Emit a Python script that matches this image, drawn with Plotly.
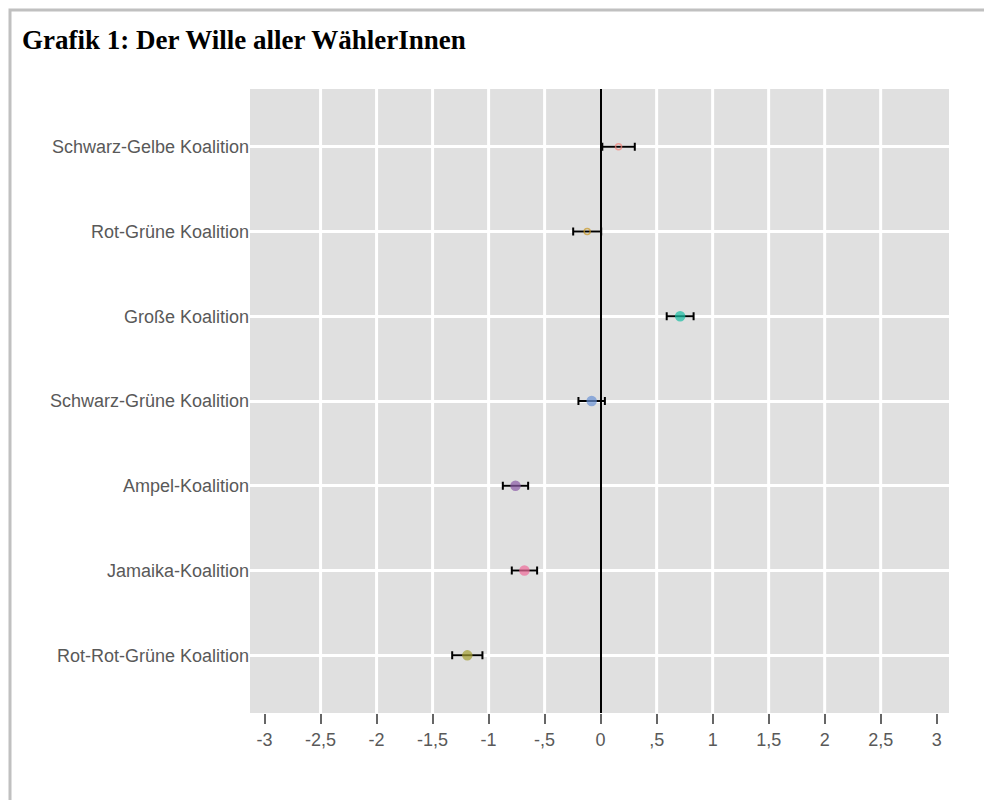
import plotly.graph_objects as go

# ---- data ----
CATEGORIES = [
    "Schwarz-Gelbe Koalition",
    "Rot-Grüne Koalition",
    "Große Koalition",
    "Schwarz-Grüne Koalition",
    "Ampel-Koalition",
    "Jamaika-Koalition",
    "Rot-Rot-Grüne Koalition",
]
ESTIMATES = [0.16, -0.12, 0.71, -0.08, -0.76, -0.68, -1.19]
ERRORS = [0.145, 0.125, 0.12, 0.118, 0.113, 0.113, 0.135]
COLORS = ["#F4837A", "#C8951F", "#19BFA5", "#6B93D6", "#8C5BA8", "#F06A9A", "#A5A032"]
SYMBOLS = ["circle-open", "circle-open", "circle", "circle", "circle", "circle", "circle"]
SIZES = [6, 6, 9, 9, 9, 9, 9]

TICK_VALS = [-3, -2.5, -2, -1.5, -1, -0.5, 0, 0.5, 1, 1.5, 2, 2.5, 3]
TICK_TEXT = ["-3", "-2,5", "-2", "-1,5", "-1", "-,5", "0", ",5", "1", "1,5", "2", "2,5", "3"]
GRID_X = [-2.5, -2, -1.5, -1, -0.5, 0.5, 1, 1.5, 2, 2.5]

TITLE = "Grafik 1: Der Wille aller WählerInnen"

# page body has an 8px margin, so the figure is drawn from (8, 8)
OFF = 8
W, H = 992 - OFF, 800 - OFF
L, R, T, B = 250 - OFF, 992 - 949, 89 - OFF, 800 - 713
pw, ph = W - L - R, H - T - B

fig = go.Figure()
fig.add_trace(go.Scatter(
    x=ESTIMATES, y=CATEGORIES, mode="markers",
    marker=dict(color=COLORS, symbol=SYMBOLS, size=SIZES,
                line=dict(color=COLORS, width=1.5)),
    error_x=dict(type="data", array=ERRORS, visible=True,
                 color="black", thickness=2, width=4),
    showlegend=False, hoverinfo="skip",
))

shapes = []
for gx in GRID_X:
    shapes.append(dict(type="line", xref="x", yref="paper", x0=gx, x1=gx, y0=0, y1=1,
                       line=dict(color="white", width=3), layer="below"))


def px_x(p):
    return (p - OFF - L) / pw


def px_y(p):
    return (H - B - (p - OFF)) / ph


# outer border of the figure
shapes.append(dict(type="rect", xref="paper", yref="paper",
                   x0=px_x(10), x1=px_x(1010), y0=px_y(10), y1=px_y(830),
                   line=dict(color="#C0C0C0", width=3), fillcolor="rgba(0,0,0,0)", layer="above"))

fig.update_layout(
    width=W, height=H,
    margin=dict(l=L, r=R, t=T, b=B),
    paper_bgcolor="white",
    plot_bgcolor="#E0E0E0",
    title=dict(text="<b>" + TITLE + "</b>", x=(22 - OFF) / W, xanchor="left", xref="container",
               y=1 - (40 - OFF) / H, yanchor="middle", yref="container",
               font=dict(family="Liberation Serif", size=27, color="black")),
    font=dict(family="Liberation Sans", size=18, color="#595959"),
    shapes=shapes,
    xaxis=dict(range=[-3.13, 3.11], tickvals=TICK_VALS, ticktext=TICK_TEXT,
               showgrid=False, zeroline=True, zerolinecolor="black", zerolinewidth=2,
               ticks="outside", ticklen=10, tickwidth=2, tickcolor="#666666",
               tickfont=dict(size=18, color="#595959"), showline=False, fixedrange=True),
    yaxis=dict(type="category", categoryorder="array", categoryarray=CATEGORIES,
               range=[6.68, -0.68], showgrid=True, gridcolor="white", gridwidth=3,
               ticks="", tickfont=dict(size=18, color="#595959"), showline=False,
               zeroline=False, fixedrange=True, ticklabelstandoff=0),
)

fig.write_html("out.html")
